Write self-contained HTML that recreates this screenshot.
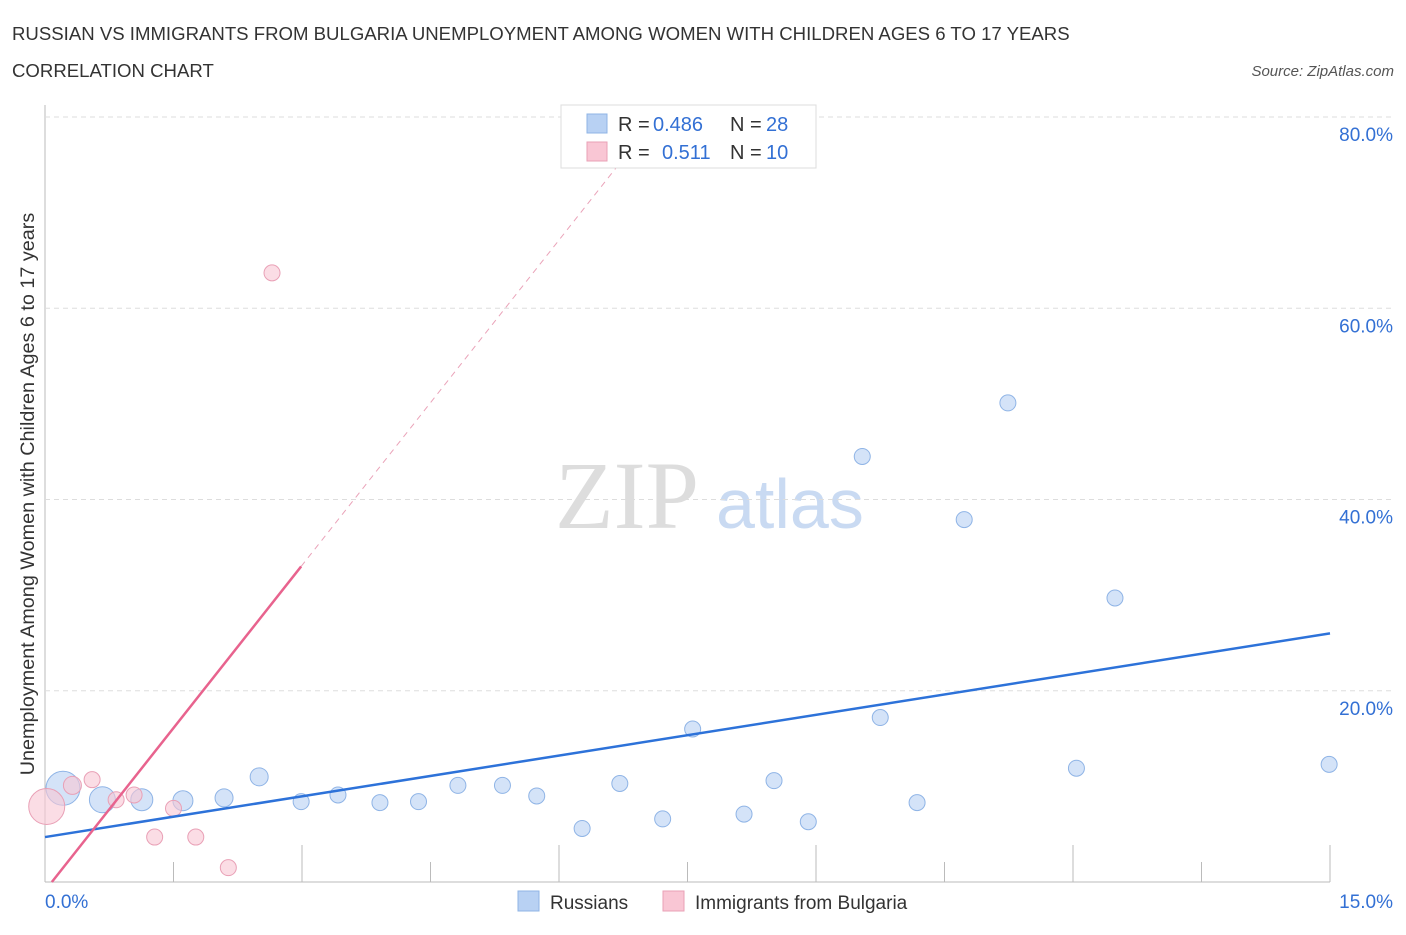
<!DOCTYPE html>
<html><head><meta charset="utf-8"><style>
body{margin:0;background:#fff;font-family:"Liberation Sans",sans-serif}
</style></head><body>
<svg id="c" width="1406" height="930" xmlns="http://www.w3.org/2000/svg">
<text x="12" y="40" font-size="18.6" fill="#333">RUSSIAN VS IMMIGRANTS FROM BULGARIA UNEMPLOYMENT AMONG WOMEN WITH CHILDREN AGES 6 TO 17 YEARS</text>
<text x="12" y="77" font-size="18.6" fill="#333">CORRELATION CHART</text>
<text x="1394" y="76" font-size="15" fill="#555" font-style="italic" text-anchor="end">Source: ZipAtlas.com</text>
<text x="0" y="0" transform="translate(34,494) rotate(-90)" font-size="19.8" fill="#333" text-anchor="middle">Unemployment Among Women with Children Ages 6 to 17 years</text>
<text x="555" y="528" font-size="96" fill="#ddd" font-family="Liberation Serif">ZIP</text>
<text x="716" y="528" font-size="70" fill="#c9daf2">atlas</text>
<g id="grid"></g><g id="marks"></g>
<g>
<rect x="561" y="105" width="255" height="63" fill="#fff" stroke="#ddd"/>
<rect x="587" y="114" width="20" height="19" fill="#b8d1f3" stroke="#8fb4e6"/>
<rect x="587" y="142" width="20" height="19" fill="#f9c6d4" stroke="#e9a0b6"/>
<text x="618" y="131" font-size="20" fill="#333">R =</text>
<text x="653" y="131" font-size="20" fill="#3370d4">0.486</text>
<text x="730" y="131" font-size="20" fill="#333">N =</text>
<text x="766" y="131" font-size="20" fill="#3370d4">28</text>
<text x="618" y="159" font-size="20" fill="#333">R =</text>
<text x="662" y="159" font-size="20" fill="#3370d4">0.511</text>
<text x="730" y="159" font-size="20" fill="#333">N =</text>
<text x="766" y="159" font-size="20" fill="#3370d4">10</text>
</g>
<g>
<rect x="518" y="891" width="21" height="20" fill="#b8d1f3" stroke="#8fb4e6"/>
<text x="550" y="909" font-size="19" fill="#333">Russians</text>
<rect x="663" y="891" width="21" height="20" fill="#f9c6d4" stroke="#e9a0b6"/>
<text x="695" y="909" font-size="19" fill="#333">Immigrants from Bulgaria</text>
</g>
</svg>
<script>
const yTicks=[20,40,60,80];
const xTickVals=[0,1.5,3,4.5,6,7.5,9,10.5,12,13.5,15];
const blueX=[0.21,0.67,1.13,1.61,2.09,2.5,2.99,3.42,3.91,4.36,4.82,5.34,5.74,6.27,6.71,7.21,7.56,8.16,8.51,8.91,9.54,9.75,10.18,10.73,11.24,12.04,12.49,14.99];
const blueY=[9.8,8.6,8.6,8.5,8.8,11.0,8.4,9.1,8.3,8.4,10.1,10.1,9.0,5.6,10.3,6.6,16.0,7.1,10.6,6.3,44.5,17.2,8.3,37.9,50.1,11.9,29.7,12.3];
const blueR=[17,13,11,10,9,9,8,8,8,8,8,8,8,8,8,8,8,8,8,8,8,8,8,8,8,8,8,8];
const pinkX=[0.02,0.32,0.55,0.83,1.04,1.28,1.5,1.76,2.14,2.65];
const pinkY=[7.9,10.1,10.7,8.6,9.1,4.7,7.7,4.7,1.5,63.7];
const pinkR=[18,9,8,8,8,8,8,8,8,8];
const blueLine=[[0,4.7],[15,26.0]];
const pinkLine=[[0.08,0],[2.99,33.0]];
const pinkDash=[[2.99,33.0],[6.8,76.2]];
const X=v=>45+v*(1330-45)/15, Y=v=>882-v*(882-117)/80;
const NS="http://www.w3.org/2000/svg";
function mk(p,t,a){const e=document.createElementNS(NS,t);for(const k in a)e.setAttribute(k,a[k]);p.appendChild(e);return e;}
const g=document.getElementById('grid'),m=document.getElementById('marks');
const ax=mk(g,'line',{x1:45,y1:105,x2:45,y2:882,stroke:'#bbb'});

const bx=mk(g,'line',{x1:45,y1:882,x2:1330,y2:882,stroke:'#bbb'});

yTicks.forEach(t=>{const l=mk(g,'line',{x1:45,x2:1395,y1:Y(t),y2:Y(t),stroke:'#ddd','stroke-dasharray':'5,4'});

const tx=mk(g,'text',{x:1393,y:Y(t)+24,'font-size':19,fill:'#3370d4','text-anchor':'end'});tx.textContent=t.toFixed(1)+'%';
});
xTickVals.forEach(t=>{const l=mk(g,'line',{x1:X(t),x2:X(t),y1:882,y2:t%3===1.5?862:845,stroke:'#bbb'});
});
[[0,'0.0%',45,'start'],[15,'15.0%',1393,'end']].forEach(d=>{const tx=mk(g,'text',{x:d[2],y:908,'font-size':19,fill:'#3370d4','text-anchor':d[3]});tx.textContent=d[1];
});
blueX.forEach((v,i)=>{const c=mk(m,'circle',{cx:X(v),cy:Y(blueY[i]),r:blueR[i],fill:'rgba(184,209,243,0.6)',stroke:'#8fb4e6'});
});
pinkX.forEach((v,i)=>{const c=mk(m,'circle',{cx:X(v),cy:Y(pinkY[i]),r:pinkR[i],fill:'rgba(249,198,212,0.6)',stroke:'#e9a0b6'});
});
const l1=mk(m,'line',{x1:X(blueLine[0][0]),y1:Y(blueLine[0][1]),x2:X(blueLine[1][0]),y2:Y(blueLine[1][1]),stroke:'#2d72d9','stroke-width':2.5});

const l2=mk(m,'line',{x1:X(pinkLine[0][0]),y1:Y(pinkLine[0][1]),x2:X(pinkLine[1][0]),y2:Y(pinkLine[1][1]),stroke:'#e8638e','stroke-width':2.5});

const l3=mk(m,'line',{x1:X(pinkDash[0][0]),y1:Y(pinkDash[0][1]),x2:X(pinkDash[1][0]),y2:Y(pinkDash[1][1]),stroke:'#eaa3b9','stroke-width':1,'stroke-dasharray':'6,5'});

</script>
</body></html>
